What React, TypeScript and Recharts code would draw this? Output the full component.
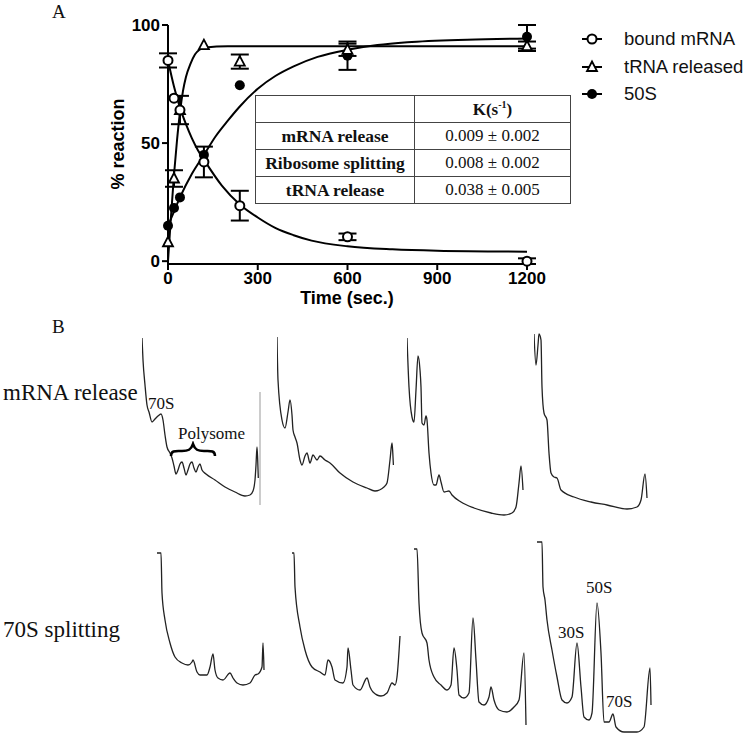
import React from 'react'
import {
  ComposedChart, LineChart, Line, Scatter, ErrorBar, XAxis, YAxis,
} from 'recharts'

// ---- Panel A: kinetics (time in s, % reaction) ----
const timeTicks = [0, 300, 600, 900, 1200]
const pctTicks = [0, 50, 100]

// measured points: [time, value, sd]
const mrnaPoints: [number, number, number][] = [
  [0, 85, 3], [20, 69, 0], [40, 64, 0], [120, 42, 6.5], [240, 23.5, 6.3], [600, 10.3, 1.4], [1200, 0, 1.2],
]
const trnaPoints: [number, number, number][] = [
  [0, 8, 0], [20, 35, 3.5], [40, 64, 6], [120, 91.5, 0], [240, 84.5, 3], [600, 89.5, 2.6], [1200, 91, 2],
]
const subunitPoints: [number, number, number][] = [
  [0, 15, 0], [20, 22.5, 0], [40, 27, 0], [120, 45, 0], [240, 74.5, 0], [600, 87, 6], [1200, 95, 5],
]

// fitted curves: [time, value]
const mrnaFit: [number, number][] = [
  [0, 85], [20, 74], [40, 65], [60, 58], [80, 52], [100, 47], [120, 43], [180, 32], [240, 24],
  [300, 18.5], [360, 14], [420, 11], [480, 8.7], [600, 6.3], [750, 5], [900, 4.4], [1200, 4],
]
const trnaFit: [number, number][] = [
  [0, 0], [10, 19], [20, 36.5], [30, 51], [40, 63], [50, 72], [60, 78], [75, 83.5], [90, 87.5],
  [105, 89.5], [125, 90.5], [200, 91], [1200, 91],
]
const subunitFit: [number, number][] = [
  [0, 15], [20, 21], [40, 27], [80, 37], [120, 45], [160, 53], [200, 59.5], [240, 65.5], [300, 73],
  [360, 78.5], [420, 82.5], [500, 86.5], [600, 89.5], [700, 91.5], [800, 92.7], [1000, 93.8], [1200, 94.3],
]

const rateRows = ['mRNA release', 'Ribosome splitting', 'tRNA release']
const rateValues = ['0.009 ± 0.002', '0.008 ± 0.002', '0.038 ± 0.005']
const legendNames = ['bound mRNA', 'tRNA released', '50S']

// ---- Panel B: gradient profiles [position, absorbance] ----
const releaseTrace1: [number, number][] = [
  [0, 182], [1, 160], [3, 135], [5, 115], [7, 108], [10, 98], [13, 101], [16, 104], [19, 106], [21, 100],
  [23, 85], [25, 73], [28, 67], [30, 62], [32, 54], [34, 46], [36, 50], [38, 56], [40, 58], [42, 52],
  [44, 45], [46, 50], [48, 56], [50, 58], [52, 52], [54, 48], [56, 53], [58, 56], [60, 50], [64, 46],
  [73, 40], [83, 33], [93, 28], [103, 24], [108, 25], [111, 29], [113, 40], [114, 55], [115, 73], [115.7, 60], [116.3, 42],
]
const releaseMarker: [number, number][] = [[118, 128], [118, 15]]
const releaseTrace2: [number, number][] = [
  [0, 183], [1, 140], [5, 100], [8, 92], [11, 108], [13, 120], [15, 105], [16, 90], [18, 83], [20, 77],
  [23, 60], [25, 55], [28, 64], [30, 67], [33, 57], [36, 65], [40, 60], [43, 64], [48, 60], [53, 57],
  [63, 47], [76, 38], [90, 32], [98, 29], [107, 33], [110, 37], [113, 60], [115, 77], [115.8, 67], [116.4, 55],
]
const releaseTrace3: [number, number][] = [
  [0, 182], [2, 133], [5, 103], [7, 98], [9, 130], [11, 164], [13, 150], [14, 133], [15, 97], [17, 95],
  [19, 104], [20, 100], [22, 67], [24, 47], [27, 35], [29, 35], [32, 45], [34, 38], [37, 28], [42, 29],
  [45, 25], [54, 18], [67, 12], [84, 7], [97, 5], [105, 7], [109, 13], [112, 37], [114, 54], [116, 30],
]
const releaseTrace4: [number, number][] = [
  [0, 186], [2, 155], [4, 175], [5, 186], [7, 180], [8, 133], [10, 107], [13, 100], [15, 67], [17, 47],
  [20, 43], [23, 42], [27, 30], [40, 23], [57, 18], [73, 15], [93, 11], [103, 13], [107, 20], [111, 46], [113, 22],
]
const splitTrace1: [number, number][] = [
  [0, 187], [4, 187], [5, 147], [8, 120], [13, 97], [18, 83], [25, 77], [31, 75], [35, 78], [36, 80],
  [40, 68], [43, 65], [50, 65], [53, 73], [56, 86], [58, 70], [61, 62], [66, 60], [73, 67], [76, 62],
  [80, 57], [86, 55], [93, 57], [98, 65], [101, 66], [105, 73], [106, 97], [107, 70],
]
const splitTrace2: [number, number][] = [
  [0, 187], [2, 187], [3, 153], [8, 113], [13, 90], [20, 73], [28, 68], [33, 65], [36, 80], [40, 73],
  [43, 60], [51, 57], [55, 73], [56, 92], [59, 70], [61, 55], [68, 50], [75, 62], [78, 53], [81, 48],
  [89, 44], [95, 47], [100, 57], [103, 55], [105, 63], [108, 104],
]
const splitTrace3: [number, number][] = [
  [0, 191], [3, 191], [5, 137], [8, 107], [13, 97], [15, 80], [20, 63], [27, 55], [33, 50], [37, 55],
  [40, 92], [43, 70], [45, 45], [50, 42], [55, 47], [59, 122], [62, 80], [65, 38], [70, 35], [75, 43],
  [77, 53], [80, 40], [85, 30], [93, 28], [100, 33], [105, 40], [110, 87], [112, 15],
]
const splitTrace4: [number, number][] = [
  [0, 198], [5, 198], [6, 153], [8, 140], [10, 120], [15, 90], [20, 63], [25, 40], [30, 37], [35, 43],
  [40, 97], [44, 53], [47, 23], [52, 20], [55, 27], [60, 137], [64, 87], [67, 18], [72, 18], [76, 26],
  [79, 13], [87, 8], [100, 8], [107, 13], [113, 72], [114, 35],
]

const pts = (a: [number, number, number][]) => a.map(([t, v, err]) => ({ t, v, err }))
const fit = (a: [number, number][]) => a.map(([t, v]) => ({ t, v }))
const xy = (a: [number, number][]) => a.map(([x, y]) => ({ x, y }))

const SANS = 'Liberation Sans, Arial, sans-serif'
const SERIF = 'Liberation Serif, Times New Roman, serif'

const OpenCircle = (p: any) =>
  p.cx == null ? null : <circle cx={p.cx} cy={p.cy} r={4.5} fill="#fff" stroke="#000" strokeWidth={2} />
const OpenTriangle = (p: any) =>
  p.cx == null ? null : (
    <polygon
      points={`${p.cx},${p.cy - 5.5} ${p.cx + 5},${p.cy + 4} ${p.cx - 5},${p.cy + 4}`}
      fill="#fff" stroke="#000" strokeWidth={1.8}
    />
  )
const FilledCircle = (p: any) =>
  p.cx == null ? null : <circle cx={p.cx} cy={p.cy} r={5} fill="#000" />

function Txt({ x, y, size, children, font = SERIF, bold = false }: any) {
  return (
    <div style={{
      position: 'absolute', left: x, top: y, fontSize: size, fontFamily: font,
      fontWeight: bold ? 700 : 400, lineHeight: 1, whiteSpace: 'nowrap', color: '#111',
    }}>{children}</div>
  )
}

function Trace({ data, left, top, width, height, extra }: any) {
  return (
    <div style={{ position: 'absolute', left, top }}>
      <LineChart width={width} height={height} margin={{ top: 0, right: 0, bottom: 0, left: 0 }}>
        <XAxis type="number" dataKey="x" domain={[0, width]} hide />
        <YAxis type="number" dataKey="y" domain={[0, height]} hide />
        {extra && (
          <Line data={xy(extra)} dataKey="y" type="linear" stroke="#aaa" strokeWidth={1.2}
            dot={false} isAnimationActive={false} />
        )}
        <Line data={xy(data)} dataKey="y" type="monotoneX" stroke="#222" strokeWidth={1.3}
          dot={false} isAnimationActive={false} />
      </LineChart>
    </div>
  )
}

const tickStyle = { fill: '#000', fontSize: 17, fontWeight: 700, fontFamily: SANS }
const cell: React.CSSProperties = { border: '1px solid #444', padding: 0, height: 26, textAlign: 'center' }

export default function App() {
  return (
    <div style={{ position: 'absolute', left: 0, top: 0, width: 748, height: 740, background: '#fff', overflow: 'hidden' }}>
      <Txt x={52} y={2} size={19}>A</Txt>

      <div style={{ position: 'absolute', left: 0, top: 0 }}>
        <ComposedChart width={748} height={310} margin={{ top: 25, right: 221, left: 108, bottom: 16 }}>
          <XAxis type="number" dataKey="t" domain={[0, 1200]} ticks={timeTicks} height={30}
            tick={tickStyle} tickSize={6} axisLine={{ stroke: '#000', strokeWidth: 2 }}
            tickLine={{ stroke: '#000', strokeWidth: 2 }} />
          <YAxis type="number" dataKey="v" domain={[0, 100]} ticks={pctTicks} width={60}
            tick={tickStyle} tickSize={6} axisLine={{ stroke: '#000', strokeWidth: 2 }}
            tickLine={{ stroke: '#000', strokeWidth: 2 }} />
          <Line data={fit(mrnaFit)} dataKey="v" type="monotone" stroke="#000" strokeWidth={2} dot={false} isAnimationActive={false} />
          <Line data={fit(trnaFit)} dataKey="v" type="monotone" stroke="#000" strokeWidth={2} dot={false} isAnimationActive={false} />
          <Line data={fit(subunitFit)} dataKey="v" type="monotone" stroke="#000" strokeWidth={2} dot={false} isAnimationActive={false} />
          <Scatter data={pts(subunitPoints)} dataKey="v" shape={FilledCircle} isAnimationActive={false}>
            <ErrorBar dataKey="err" direction="y" width={9} stroke="#000" strokeWidth={2} />
          </Scatter>
          <Scatter data={pts(trnaPoints)} dataKey="v" shape={OpenTriangle} isAnimationActive={false}>
            <ErrorBar dataKey="err" direction="y" width={9} stroke="#000" strokeWidth={2} />
          </Scatter>
          <Scatter data={pts(mrnaPoints)} dataKey="v" shape={OpenCircle} isAnimationActive={false}>
            <ErrorBar dataKey="err" direction="y" width={9} stroke="#000" strokeWidth={2} />
          </Scatter>
        </ComposedChart>
      </div>

      <div style={{
        position: 'absolute', left: 118, top: 144, transform: 'translate(-50%, -50%) rotate(-90deg)',
        fontFamily: SANS, fontWeight: 700, fontSize: 18, whiteSpace: 'nowrap',
      }}>% reaction</div>
      <div style={{
        position: 'absolute', left: 347, top: 298, transform: 'translate(-50%, -50%)',
        fontFamily: SANS, fontWeight: 700, fontSize: 18, whiteSpace: 'nowrap',
      }}>Time (sec.)</div>

      <table style={{
        position: 'absolute', left: 255, top: 95, width: 316, borderCollapse: 'collapse',
        fontFamily: SERIF, fontSize: 17, background: '#fff', color: '#111',
      }}>
        <tbody>
          <tr>
            <td style={{ ...cell, width: 158 }}></td>
            <td style={{ ...cell, fontWeight: 700 }}>K(s<sup style={{ fontSize: 10 }}>-1</sup>)</td>
          </tr>
          {rateRows.map((r, i) => (
            <tr key={r}>
              <td style={{ ...cell, fontWeight: 700, fontSize: 17.5 }}>{r}</td>
              <td style={{ ...cell, fontSize: 17 }}>{rateValues[i]}</td>
            </tr>
          ))}
        </tbody>
      </table>

      {legendNames.map((name, i) => (
        <div key={name} style={{ position: 'absolute', left: 580, top: 29 + i * 27.5, height: 20, display: 'flex', alignItems: 'center' }}>
          <svg width={24} height={20}>
            <line x1={2} y1={10} x2={22} y2={10} stroke="#000" strokeWidth={2} />
            {i === 0 && <circle cx={12} cy={10} r={4.5} fill="#fff" stroke="#000" strokeWidth={2} />}
            {i === 1 && <polygon points="12,4.5 17,14 7,14" fill="#fff" stroke="#000" strokeWidth={1.8} />}
            {i === 2 && <circle cx={12} cy={10} r={5} fill="#000" />}
          </svg>
          <span style={{ marginLeft: 20, fontFamily: SANS, fontSize: 18.5, color: '#111' }}>{name}</span>
        </div>
      ))}

      <Txt x={52} y={317} size={19}>B</Txt>
      <Txt x={3} y={381} size={23}>mRNA release</Txt>
      <Txt x={3} y={618} size={23}>70S splitting</Txt>

      <Trace data={releaseTrace1} extra={releaseMarker} left={142} top={330} width={125} height={190} />
      <Trace data={releaseTrace2} left={277} top={330} width={125} height={190} />
      <Trace data={releaseTrace3} left={407} top={330} width={125} height={190} />
      <Trace data={releaseTrace4} left={534} top={330} width={125} height={190} />

      <Trace data={splitTrace1} left={157} top={535} width={125} height={205} />
      <Trace data={splitTrace2} left={292} top={535} width={125} height={205} />
      <Trace data={splitTrace3} left={414} top={535} width={125} height={205} />
      <Trace data={splitTrace4} left={537} top={535} width={125} height={205} />

      <Txt x={148} y={395} size={17}>70S</Txt>
      <Txt x={178} y={425} size={17}>Polysome</Txt>
      <svg style={{ position: 'absolute', left: 168, top: 441 }} width={52} height={18}>
        <path d="M3,15 C3,9 8,10 14,10 C20,10 23,9 25,3 C27,9 30,10 36,10 C42,10 47,9 47,15"
          fill="none" stroke="#000" strokeWidth={2.5} />
      </svg>
      <Txt x={586} y={579} size={17}>50S</Txt>
      <Txt x={558} y={624} size={17}>30S</Txt>
      <Txt x={606} y={693} size={17}>70S</Txt>
    </div>
  )
}
